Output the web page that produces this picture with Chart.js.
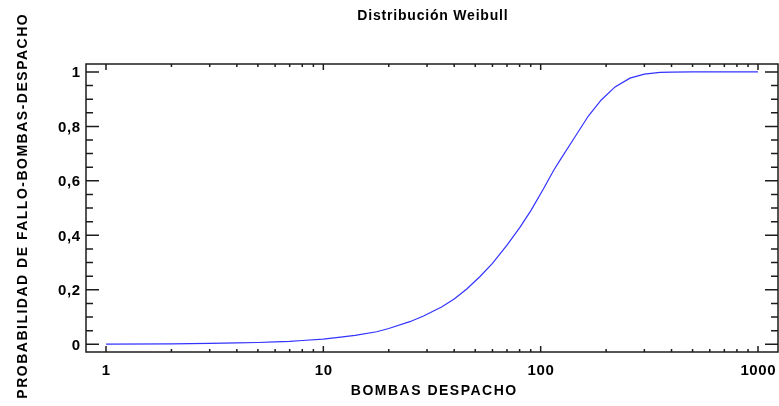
<!DOCTYPE html>
<html lang="es">
<head>
<meta charset="utf-8">
<title>Distribución Weibull</title>
<script src="https://cdn.jsdelivr.net/npm/chart.js@4/dist/chart.umd.min.js"></script>
<style>
  html, body { margin: 0; padding: 0; background: #ffffff; }
  #grafico { display: block; }
</style>
</head>
<body>
<canvas id="grafico" width="779" height="406"></canvas>
<script>
// Número de bombas de despacho (eje X, logarítmico)
const bombas = [1, 2, 3, 4, 5, 6, 7, 8, 10, 12, 14, 17.6, 20, 25, 28.9, 35, 40, 45.7, 52.6, 60,
  70, 80.4, 90, 102.9, 115, 122.8, 141.3, 165.7, 190, 219.9, 257.6, 300, 354, 400, 500, 700, 1000];
// Probabilidad acumulada de fallo
const probabilidad = [0.0005, 0.0015, 0.003, 0.005, 0.0065, 0.009, 0.011, 0.014, 0.019, 0.026,
  0.033, 0.046, 0.058, 0.083, 0.104, 0.137, 0.166, 0.203, 0.249, 0.297,
  0.364, 0.43, 0.49, 0.57, 0.64, 0.676, 0.752, 0.838, 0.897, 0.945,
  0.977, 0.992, 0.998, 0.9995, 1, 1, 1];

// Marcas y etiquetas de los ejes
const ticksX = [1, 10, 100, 1000];
const etiquetasX = ['1', '10', '100', '1000'];
const ticksY = [0, 0.2, 0.4, 0.6, 0.8, 1];
const etiquetasY = ['0', '0,2', '0,4', '0,6', '0,8', '1'];

const titulo = 'Distribución Weibull';
const tituloX = 'BOMBAS DESPACHO';
const tituloY = 'PROBABILIDAD DE FALLO-BOMBAS-DESPACHO';

const FUENTE = '"Liberation Sans", Arial, Helvetica, sans-serif';

function texto(ctx, str, x, y, size, spacing, align, rot) {
  ctx.save();
  ctx.font = 'bold ' + size + 'px ' + FUENTE;
  ctx.fillStyle = '#000000';
  ctx.textBaseline = 'alphabetic';
  ctx.textAlign = 'left';
  ctx.letterSpacing = '0px';
  const w = ctx.measureText(str).width + spacing * (str.length - 1);
  ctx.letterSpacing = spacing + 'px';
  ctx.translate(x, y);
  if (rot) ctx.rotate(rot);
  let dx = 0;
  if (align === 'center') dx = -w / 2;
  else if (align === 'right') dx = -w;
  ctx.fillText(str, dx, 0);
  ctx.restore();
}

// Marco, marcas interiores y textos dibujados sobre las escalas de Chart.js
const marco = {
  id: 'marco',
  afterDatasetsDraw(chart) {
    const { ctx, chartArea: a, scales } = chart;
    const sx = scales.x, sy = scales.y;
    ctx.save();
    ctx.strokeStyle = '#1c1c1c';
    ctx.lineWidth = 1.5;
    ctx.strokeRect(a.left, a.top, a.right - a.left, a.bottom - a.top);

    ctx.beginPath();
    // eje Y: principales cada 0,2 y secundarias cada 0,05
    for (let i = 0; i <= 20; i++) {
      const v = i * 0.05;
      const len = (i % 4 === 0) ? 13 : 7;
      const py = sy.getPixelForValue(v);
      ctx.moveTo(a.left, py); ctx.lineTo(a.left + len, py);
      ctx.moveTo(a.right, py); ctx.lineTo(a.right - len, py);
    }
    // eje X logarítmico: décadas y subdivisiones 2..9
    for (let d = 1; d <= 1000; d *= 10) {
      for (let k = 1; k <= 9; k++) {
        if (d === 1000 && k > 1) break;
        const v = k * d;
        const len = (k === 1) ? 6 : 3;
        const px = sx.getPixelForValue(v);
        ctx.moveTo(px, a.bottom); ctx.lineTo(px, a.bottom - len);
        ctx.moveTo(px, a.top); ctx.lineTo(px, a.top + len);
      }
    }
    ctx.stroke();
    ctx.restore();

    // etiquetas
    ticksY.forEach((v, i) => {
      texto(ctx, etiquetasY[i], 80, sy.getPixelForValue(v) + 5.4, 15, 0.6, 'right');
    });
    ticksX.forEach((v, i) => {
      texto(ctx, etiquetasX[i], sx.getPixelForValue(v), 374.5, 15, 0.6, 'center');
    });

    texto(ctx, titulo, 432.5, 19.5, 14, 0.8, 'center');
    texto(ctx, tituloX, 433.5, 394.8, 14, 1.5, 'center');
    texto(ctx, tituloY, 27.3, 206.5, 14, 1.5, 'center', -Math.PI / 2);
  }
};

new Chart(document.getElementById('grafico'), {
  type: 'line',
  data: {
    datasets: [{
      label: 'Weibull',
      data: bombas.map((b, i) => ({ x: b, y: probabilidad[i] })),
      borderColor: '#3333ff',
      borderWidth: 1.2,
      pointRadius: 0,
      tension: 0,
      fill: false
    }]
  },
  options: {
    responsive: false,
    animation: false,
    layout: { padding: { left: 86, right: 1, top: 64, bottom: 54 } },
    scales: {
      x: { type: 'logarithmic', min: 0.809, max: 1236, display: false },
      y: { type: 'linear', min: -0.0283, max: 1.029, display: false }
    },
    plugins: {
      legend: { display: false },
      tooltip: { enabled: false },
      title: { display: false }
    }
  },
  plugins: [marco]
});
</script>
</body>
</html>
